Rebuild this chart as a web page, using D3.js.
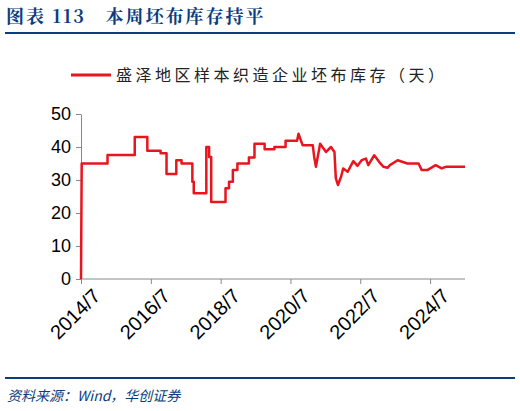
<html>
<head>
<script src="https://d3js.org/d3.v7.min.js"></script>
</head>
<body style="margin:0">
<svg id="svg" width="520" height="411"></svg>
<script>
// decimal years since 2014/7 (t) and inventory days
const t = [0, 0.02, 0.76, 0.76, 1.54, 1.54, 1.90, 1.90, 2.28, 2.28, 2.45, 2.45, 2.73, 2.73, 2.88, 2.88,
    3.19, 3.19, 3.23, 3.23, 3.59, 3.59, 3.67, 3.67, 3.73, 3.73, 4.14, 4.14, 4.24, 4.24, 4.35, 4.35, 4.48, 4.48,
    4.81, 4.81, 4.97, 4.97, 5.26, 5.26, 5.54, 5.54, 5.86, 5.86, 6.19, 6.23, 6.35, 6.35, 6.64, 6.68, 6.73, 6.85,
    7.02, 7.16, 7.26, 7.30, 7.36, 7.45, 7.51, 7.64, 7.80, 7.92, 8.04, 8.16, 8.23, 8.40, 8.54, 8.66, 8.78, 8.85,
    9.07, 9.35, 9.67, 9.76, 9.92, 10.16, 10.33, 10.45, 11.0];
const days = [0, 35, 35, 37.6, 37.6, 43, 43, 38.9, 38.9, 38.1, 38.1, 31.8, 31.8, 36, 36, 35,
    35, 29.5, 29.5, 26, 26, 40, 40, 37, 37, 23.3, 23.3, 27.5, 27.5, 29.5, 29.5, 33, 33, 35,
    35, 36.8, 36.8, 41, 41, 39.3, 39.3, 40, 40, 41.9, 41.9, 44, 40.5, 40.5, 40.5, 37, 34, 41,
    38.5, 40, 38.5, 30.5, 28.5, 31, 33.5, 32.5, 35.7, 34.3, 36, 36.5, 34.5, 37.5, 35.5, 34, 33.7, 34.5,
    36, 35, 35, 33, 33, 34.5, 33.5, 34, 34];
const tickLabels = ["2014/7", "2016/7", "2018/7", "2020/7", "2022/7", "2024/7"];
const yTicks = [0, 10, 20, 30, 40, 50];

const svg = d3.select("#svg");
const blue = "#0b3d7e";
const cn = "'Noto Sans CJK SC', sans-serif";

svg.append("text").attr("x", 6).attr("y", 23).attr("fill", blue)
    .style("font-family", "'Noto Serif CJK SC', 'Noto Sans CJK SC', serif").style("font-weight", "bold")
    .style("font-size", "18px").style("letter-spacing", "2px").attr("xml:space", "preserve")
    .text("图表 113   本周坯布库存持平");
svg.append("rect").attr("x", 5).attr("y", 32).attr("width", 510).attr("height", 2).attr("fill", blue);
svg.append("rect").attr("x", 5).attr("y", 377).attr("width", 510).attr("height", 2).attr("fill", blue);
svg.append("text").attr("x", 7).attr("y", 401).attr("fill", blue)
    .style("font-family", cn).style("font-style", "italic").style("font-size", "14px")
    .text("资料来源：Wind，华创证券");

// legend
svg.append("line").attr("x1", 71).attr("x2", 111).attr("y1", 75).attr("y2", 75)
    .attr("stroke", "#e8141e").attr("stroke-width", 3);
svg.append("text").attr("x", 116).attr("y", 81).attr("fill", "#222")
    .style("font-family", cn).style("font-size", "16px").style("letter-spacing", "3.5px")
    .text("盛泽地区样本织造企业坯布库存（天）");

const x = d3.scaleLinear().domain([0, 11]).range([81, 465]);
const y = d3.scaleLinear().domain([0, 50]).range([279, 114]);

const xa = svg.append("g").attr("transform", "translate(0,279)")
    .call(d3.axisBottom(x).tickValues([0, 2, 4, 6, 8, 10]).tickFormat((d, i) => tickLabels[i]).tickSize(5).tickSizeOuter(0));
xa.select(".domain").attr("d", "M81,0H465").attr("stroke", "#888");
xa.selectAll("line").attr("stroke", "#888");
xa.selectAll("text").attr("transform", "translate(6,4) rotate(-45)").style("text-anchor", "end")
    .attr("dy", "0.6em").style("font-family", "Arial, 'Liberation Sans'").style("font-size", "20px").attr("fill", "#000");

const ya = svg.append("g").attr("transform", "translate(81,0)")
    .call(d3.axisLeft(y).tickValues(yTicks).tickSize(5).tickSizeOuter(0));
ya.selectAll("line, .domain").attr("stroke", "#888");
ya.selectAll("text").style("font-family", "Arial, 'Liberation Sans'").style("font-size", "18px").attr("fill", "#000").attr("dx", "-2");

const pts = t.map((d, i) => [d, days[i]]);
svg.append("path").datum(pts)
    .attr("d", d3.line().x(d => x(d[0])).y(d => y(d[1])))
    .attr("fill", "none").attr("stroke", "#e8141e").attr("stroke-width", 2.5).attr("stroke-linejoin", "round");
</script>
</body>
</html>
